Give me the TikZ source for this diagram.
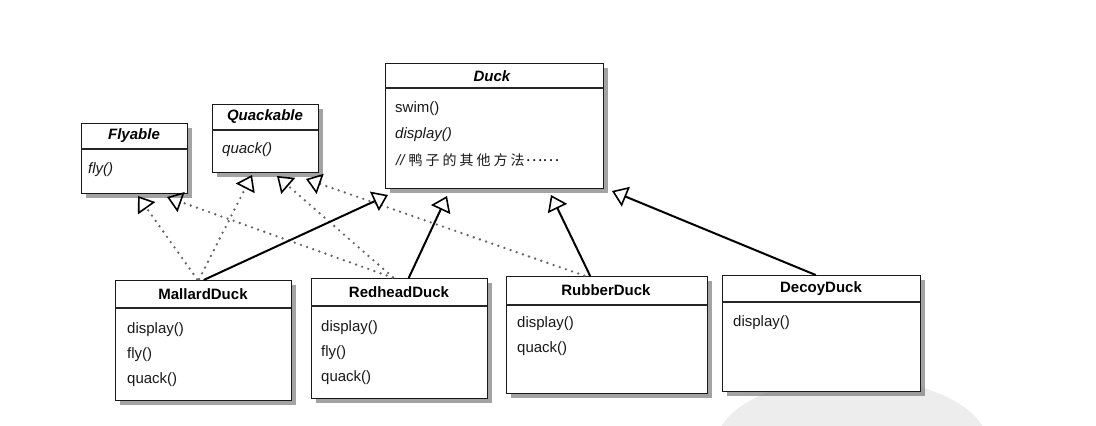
\documentclass[tikz,border=0pt]{standalone}
\usepackage{fontspec}
\setmainfont{Liberation Sans}
\newfontfamily\cjk{Noto Sans CJK SC}
\usetikzlibrary{arrows.meta,shadows}
\begin{document}
\begin{tikzpicture}[x=1pt,y=-1pt,
  box/.style={draw=black!90, line width=1.4pt, fill=white, inner sep=0pt, anchor=north west,
    drop shadow={shadow xshift=4pt, shadow yshift=-4pt, fill=black!60, opacity=0.6}},
  hdr/.style={draw=black!85, line width=1.2pt},
  ttl/.style={font=\fontsize{15}{18}\selectfont\bfseries, anchor=center, inner sep=0pt},
  item/.style={font=\fontsize{15}{18}\selectfont, anchor=west, inner sep=0pt, text=black!90},
  inh/.style={line width=2pt, black, -{Triangle[open, length=15pt, width=21pt, line width=1.6pt]}},
  real/.style={line width=2.6pt, black!60, dash pattern=on 0pt off 6.5pt, line cap=round,
    -{Triangle[open, length=15pt, width=21pt, line width=1.6pt, line cap=butt, color=black]}, shorten <=1pt}
]
\useasboundingbox (0,0) rectangle (1096,426);
\fill[white] (0,0) rectangle (1096,426);
% faint background blob
\fill[black!7] (852,445) ellipse [x radius=136, y radius=67];

% ---- boxes ----
\node[box, minimum width=106pt, minimum height=70pt] (fly) at (81,123) {};
\draw[hdr] (81,149) -- (187,149);
\node[ttl] (flyT) at (134,136) {\itshape Flyable};
\node[item] (flyM) at (88,170) {\itshape fly()};

\node[box, minimum width=106pt, minimum height=68pt] (qua) at (212,104) {};
\draw[hdr] (212,130) -- (318,130);
\node[ttl] (quaT) at (265,117) {\itshape Quackable};
\node[item] (quaM) at (222,150) {\itshape quack()};

\node[box, minimum width=218pt, minimum height=125pt] (duck) at (385,63) {};
\draw[hdr] (385,88) -- (603,88);
\node[ttl] (duckT) at (492,76) {\itshape Duck};
\node[item] (duckM1) at (395,109) {swim()};
\node[item] (duckM2) at (395,135) {\itshape display()};
\node[item] (duckM3) at (396,160) {{\itshape //}\hspace{4pt}{\cjk\fontsize{14}{16}\selectfont 鸭\hspace{3pt}子\hspace{3pt}的\hspace{3pt}其\hspace{3pt}他\hspace{3pt}方\hspace{3pt}法}\hspace{1pt}\raisebox{4pt}{\cjk\fontsize{16}{16}\selectfont ……}};

\node[box, minimum width=176pt, minimum height=120pt] (mall) at (115,280) {};
\draw[hdr] (115,308) -- (291,308);
\node[ttl] (mallT) at (203,294) {MallardDuck};
\node[item] (mallM1) at (127,330) {display()};
\node[item] (mallM2) at (127,355) {fly()};
\node[item] (mallM3) at (127,380) {quack()};

\node[box, minimum width=176pt, minimum height=120pt] (red) at (311,278) {};
\draw[hdr] (311,306) -- (487,306);
\node[ttl] (redT) at (399,292) {RedheadDuck};
\node[item] (redM1) at (321,328) {display()};
\node[item] (redM2) at (321,353) {fly()};
\node[item] (redM3) at (321,378) {quack()};

\node[box, minimum width=201pt, minimum height=117pt] (rub) at (506,276) {};
\draw[hdr] (506,305) -- (707,305);
\node[ttl] (rubT) at (606,290) {RubberDuck};
\node[item] (rubM1) at (517,324) {display()};
\node[item] (rubM2) at (517,349) {quack()};

\node[box, minimum width=198pt, minimum height=116pt] (dec) at (722,275) {};
\draw[hdr] (722,302) -- (920,302);
\node[ttl] (decT) at (821,289) {DecoyDuck};
\node[item] (decM1) at (733,323) {display()};

% ---- arrow tip points ----
\coordinate (tFlyA) at (138,196);
\coordinate (tFlyB) at (167,197);
\coordinate (tQuaA) at (252,175);
\coordinate (tQuaB) at (277,176);
\coordinate (tQuaC) at (306,179);
\coordinate (tDuckA) at (388,195);
\coordinate (tDuckB) at (447,196);
\coordinate (tDuckC) at (551,195);
\coordinate (tDuckD) at (612,191);

% ---- realisation (dotted) ----
\draw[real] ([xshift=-6pt]mall.north) -- (tFlyA);
\draw[real] ([xshift=-5pt]mall.north) -- (tQuaA);
\draw[real] ([xshift=-6pt]red.north) -- (tFlyB);
\draw[real] ([xshift=-6pt]red.north) -- (tQuaB);
\draw[real] ([xshift=-22pt]rub.north) -- (tQuaC);

% ---- inheritance (solid) ----
\draw[inh] (mall.north) -- (tDuckA);
\draw[inh] ([xshift=9pt]red.north) -- (tDuckB);
\draw[inh] ([xshift=-17pt]rub.north) -- (tDuckC);
\draw[inh] ([xshift=-6pt]dec.north) -- (tDuckD);
\end{tikzpicture}
\end{document}
